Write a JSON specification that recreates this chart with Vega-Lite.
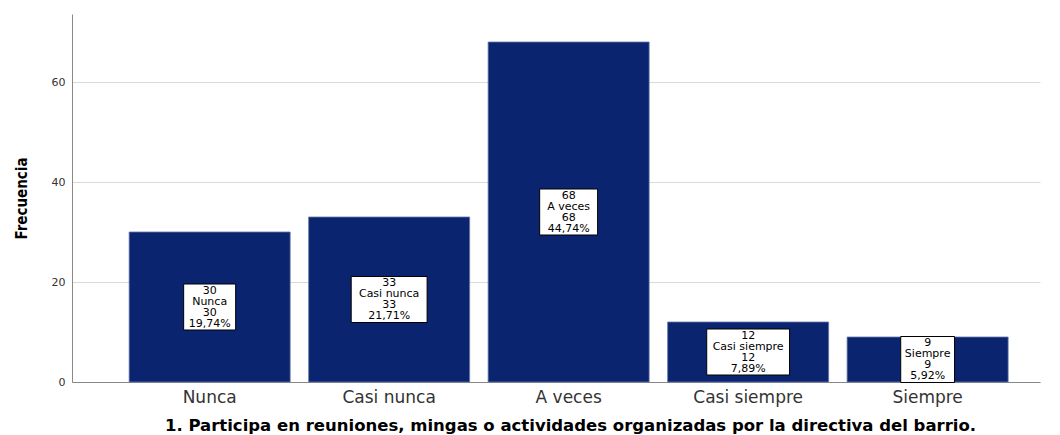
{
  "$schema": "https://vega.github.io/schema/vega-lite/v6.json",
  "width": 968,
  "height": 368,
  "autosize": {"type": "none"},
  "padding": {"left": 72, "top": 14, "right": 20, "bottom": 53},
  "background": "white",
  "config": {
    "view": {"stroke": null},
    "font": "DejaVu Sans",
    "locale": {"number": {"decimal": ",", "thousands": ".", "grouping": [3], "currency": ["", " €"]}}
  },
  "data": {"values": [
    {"Respuesta": "Nunca", "Frecuencia": 30, "Porcentaje": 0.1974},
    {"Respuesta": "Casi nunca", "Frecuencia": 33, "Porcentaje": 0.2171},
    {"Respuesta": "A veces", "Frecuencia": 68, "Porcentaje": 0.4474},
    {"Respuesta": "Casi siempre", "Frecuencia": 12, "Porcentaje": 0.0789},
    {"Respuesta": "Siempre", "Frecuencia": 9, "Porcentaje": 0.0592}
  ]},
  "encoding": {
    "x": {
      "field": "Respuesta",
      "type": "nominal",
      "sort": null,
      "scale": {"domain": ["Nunca", "Casi nunca", "A veces", "Casi siempre", "Siempre"], "paddingInner": 0.103, "paddingOuter": 0.248, "align": 0.642},
      "axis": {
        "title": "1. Participa en reuniones, mingas o actividades organizadas por la directiva del barrio.",
        "labelAngle": 0,
        "ticks": false,
        "labelPadding": 7,
        "labelFont": "DejaVu Sans",
        "labelFontSize": 17,
        "labelColor": "#333333",
        "domainColor": "#888888",
        "titleFont": "DejaVu Sans",
        "titleFontSize": 16.5,
        "titleFontWeight": "bold",
        "titleColor": "#000000",
        "titlePadding": 12,
        "titleX": 498
      }
    }
  },
  "layer": [
    {
      "mark": {"type": "bar", "color": "#0b2470", "stroke": "#6677a8", "strokeWidth": 0.8},
      "encoding": {
        "y": {
          "field": "Frecuencia",
          "type": "quantitative",
          "scale": {"domain": [0, 73.6], "nice": false},
          "axis": {
            "title": "Frecuencia",
            "values": [0, 20, 40, 60],
            "ticks": false,
            "labelPadding": 7,
            "labelFont": "DejaVu Sans",
            "labelFontSize": 11,
            "labelColor": "#333333",
            "domainColor": "#888888",
            "grid": true,
            "gridColor": "#d9d9d9",
            "titleFont": "DejaVu Sans Condensed, Liberation Sans",
            "titleFontSize": 15,
            "titleFontWeight": "bold",
            "titleColor": "#000000",
            "titlePadding": 22
          }
        }
      }
    },
    {
      "encoding": {
        "y": {"field": "Frecuencia", "type": "quantitative", "scale": {"domain": [0, 147.2], "nice": false}, "axis": null}
      },
      "layer": [
        {
          "mark": {"type": "point", "filled": true, "color": "white", "stroke": "black", "strokeWidth": 1, "opacity": 1, "size": 2116},
          "encoding": {
            "shape": {
              "field": "Respuesta",
              "type": "nominal",
              "legend": null,
              "scale": {
                "domain": ["Nunca", "Casi nunca", "A veces", "Casi siempre", "Siempre"],
                "range": ["M-1.13,-1H1.13V1H-1.13Z", "M-1.65,-1H1.65V1H-1.65Z", "M-1.26,-1H1.26V1H-1.26Z", "M-1.8,-1H1.8V1H-1.8Z", "M-1.17,-1H1.17V1H-1.17Z"]
              }
            }
          }
        },
        {
          "mark": {"type": "text", "dy": -16.5, "font": "DejaVu Sans", "fontSize": 11, "color": "black", "baseline": "middle"},
          "encoding": {"text": {"field": "Frecuencia", "type": "quantitative"}}
        },
        {
          "mark": {"type": "text", "dy": -5.5, "font": "DejaVu Sans", "fontSize": 11, "color": "black", "baseline": "middle"},
          "encoding": {"text": {"field": "Respuesta", "type": "nominal"}}
        },
        {
          "mark": {"type": "text", "dy": 5.5, "font": "DejaVu Sans", "fontSize": 11, "color": "black", "baseline": "middle"},
          "encoding": {"text": {"field": "Frecuencia", "type": "quantitative"}}
        },
        {
          "mark": {"type": "text", "dy": 16.5, "font": "DejaVu Sans", "fontSize": 11, "color": "black", "baseline": "middle"},
          "encoding": {"text": {"field": "Porcentaje", "type": "quantitative", "format": ".2%"}}
        }
      ]
    }
  ],
  "resolve": {"scale": {"y": "independent"}}
}
